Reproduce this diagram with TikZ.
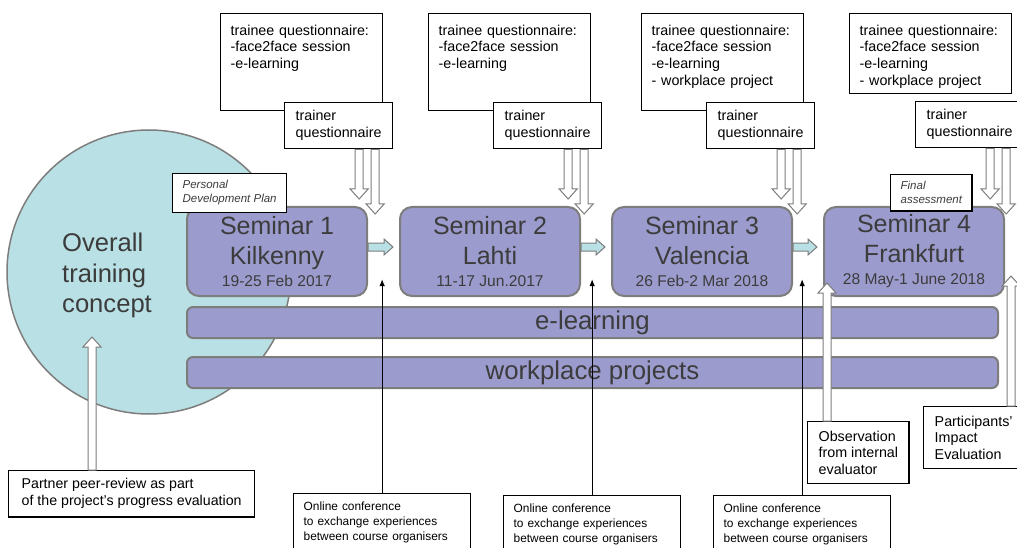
\documentclass[tikz,border=0pt]{standalone}
\usepackage{fontspec}
\setmainfont{Liberation Sans}
\usetikzlibrary{positioning,calc,arrows.meta}

\definecolor{lavender}{RGB}{155,155,206}
\definecolor{paleteal}{RGB}{185,224,228}
\definecolor{rimgrey}{RGB}{125,125,125}
\definecolor{inkgrey}{RGB}{60,60,60}

\tikzset{
  seminar/.style={draw=rimgrey, line width=2pt, fill=lavender, rounded corners=12pt,
    minimum width=180pt, minimum height=89pt, inner sep=0pt, align=center,
    text=inkgrey, font=\fontsize{25}{30}\selectfont},
  strand/.style={draw=rimgrey, line width=2pt, fill=lavender, rounded corners=6pt,
    minimum width=811pt, minimum height=31pt, inner sep=0pt,
    text=inkgrey, font=\fontsize{25.8}{30}\selectfont},
  qbox/.style={draw, line width=1.3pt, fill=white, anchor=north west, align=left,
    text width=142pt, inner xsep=10pt, inner ysep=11pt, text height=10.4pt,
    font=\fontsize{14.3}{16.7}\selectfont},
  trainerbox/.style={draw, line width=1.3pt, fill=white, anchor=north west, align=left,
    inner xsep=11pt, minimum height=46pt, font=\fontsize{14.3}{16.7}\selectfont},
  notebox/.style={draw, line width=1.3pt, fill=white, anchor=north west, align=left,
    inner xsep=10pt, inner ysep=7pt, text=inkgrey, font=\fontsize{11.5}{14}\selectfont\itshape},
  remark/.style={draw, line width=1.3pt, fill=white, anchor=north west, align=left,
    inner xsep=11pt, inner ysep=9pt, font=\fontsize{14.3}{16.7}\selectfont},
  online/.style={draw, line width=1.3pt, fill=white, anchor=north west, align=left,
    text width=157pt, inner xsep=10pt, inner ysep=8pt, text height=8.5pt, text depth=50pt,
    font=\fontsize{11.9}{15}\selectfont},
  hollow/.style={draw=rimgrey, line width=1pt, fill=white},
  stepper/.style={draw=rimgrey, line width=1pt, fill=paleteal},
  feedback/.style={draw, line width=1.3pt, -{Latex[length=7pt,width=5.5pt]}},
}

% block arrow between two seminars
\newcommand\stepjump[2]{%
  \filldraw[stepper] ($(#1.east)+(0,-8.5)$) -- ($(#2.west)+(-15,-8.5)$)
    -- ($(#2.west)+(-15,-12.5)$) -- ($(#2.west)+(-6,-4.5)$) -- ($(#2.west)+(-15,3.5)$)
    -- ($(#2.west)+(-15,-0.5)$) -- ($(#1.east)+(0,-0.5)$) -- cycle;}

% hollow vertical arrow: #1 tail, #2 tip, #3 = 1 down, -1 up
\newcommand\hollowarrow[3]{%
  \filldraw[hollow] ($(#1)+(-4,0)$) -- ($(#2)+(-4,{-10*(#3)})$) -- ($(#2)+(-9,{-10*(#3)})$)
    -- (#2) -- ($(#2)+(9,{-10*(#3)})$) -- ($(#2)+(4,{-10*(#3)})$) -- ($(#1)+(4,0)$) -- cycle;}

\begin{document}
\begin{tikzpicture}[x=1pt, y=-1pt]
    \clip (0,0) rectangle (1017,548);

    % training concept
    \node [circle, draw=rimgrey, line width=1.5pt, fill=paleteal, minimum size=284pt, inner sep=0pt] (otc) at (149,272) {};
    \node [anchor=north west, inner sep=0pt, align=left, text=inkgrey, font=\fontsize{25.6}{30.5}\selectfont] (otctext) at (62,233) {Overall\\training\\concept};

    % seminars and strands
    \node [seminar] (s1) at (277,251.5) {Seminar 1\\Kilkenny\\[-8pt]{\fontsize{15.6}{18}\selectfont 19-25 Feb 2017}};
    \node [seminar, right=31pt of s1] (s2) {Seminar 2\\Lahti\\[-8pt]{\fontsize{15.6}{18}\selectfont 11-17 Jun.2017}};
    \node [seminar, right=30pt of s2] (s3) {Seminar 3\\Valencia\\[-8pt]{\fontsize{15.6}{18}\selectfont 26 Feb-2 Mar 2018}};
    \node [seminar, right=30pt of s3] (s4) {Seminar 4\\Frankfurt\\[-8pt]{\fontsize{15.6}{18}\selectfont 28 May-1 June 2018}};
    \node [strand, below=9pt of s1.south west, anchor=north west] (elearn) {e-learning};
    \node [strand, below=17pt of elearn] (wproj) {workplace projects};

    \stepjump{s1}{s2}
    \stepjump{s2}{s3}
    \stepjump{s3}{s4}

    % questionnaires
    \node [qbox, text depth=64.6pt] (tq1) at (220,13) {trainee questionnaire:\\-face2face session\\-e-learning};
    \node [qbox, text depth=64.6pt] (tq2) at (428,13) {trainee questionnaire:\\-face2face session\\-e-learning};
    \node [qbox, text depth=64.6pt] (tq3) at (641,13) {trainee questionnaire:\\-face2face session\\-e-learning\\- workplace project};
    \node [qbox, text depth=47.6pt] (tq4) at (849,13) {trainee questionnaire:\\-face2face session\\-e-learning\\- workplace project};
    \node [trainerbox] (tr1) at (284,102) {trainer\\questionnaire};
    \node [trainerbox] (tr2) at (493,102) {trainer\\questionnaire};
    \node [trainerbox] (tr3) at (706,102) {trainer\\questionnaire};
    \node [trainerbox] (tr4) at (915,101) {trainer\\questionnaire};

    \coordinate (t1a) at ($(tr1.south east)+(-34,0)$);
    \coordinate (t1b) at ($(tr1.south east)+(-18,0)$);
    \coordinate (t2a) at ($(tr2.south east)+(-34,0)$);
    \coordinate (t2b) at ($(tr2.south east)+(-18,0)$);
    \coordinate (t3a) at ($(tr3.south east)+(-34,0)$);
    \coordinate (t3b) at ($(tr3.south east)+(-18,0)$);
    \coordinate (t4a) at ($(tr4.south east)+(-34,0)$);
    \coordinate (t4b) at ($(tr4.south east)+(-18,0)$);
    \coordinate (h1a) at ($(t1a |- s1.north)+(0,-7)$);
    \coordinate (h1b) at ($(t1b |- s1.north)+(0,8)$);
    \coordinate (h2a) at ($(t2a |- s2.north)+(0,-7)$);
    \coordinate (h2b) at ($(t2b |- s2.north)+(0,8)$);
    \coordinate (h3a) at ($(t3a |- s3.north)+(0,-7)$);
    \coordinate (h3b) at ($(t3b |- s3.north)+(0,8)$);
    \coordinate (h4a) at ($(t4a |- s4.north)+(0,-7)$);
    \coordinate (h4b) at ($(t4b |- s4.north)+(0,8)$);
    \hollowarrow{t1a}{h1a}{1}
    \hollowarrow{t1b}{h1b}{1}
    \hollowarrow{t2a}{h2a}{1}
    \hollowarrow{t2b}{h2b}{1}
    \hollowarrow{t3a}{h3a}{1}
    \hollowarrow{t3b}{h3b}{1}
    \hollowarrow{t4a}{h4a}{1}
    \hollowarrow{t4b}{h4b}{1}

    \node [notebox] (pdp) at (172,173) {Personal\\Development Plan};
    \node [notebox] (final) at (890,174) {Final\\assessment};

    % evaluation below
    \node [remark, inner xsep=13pt, inner ysep=8pt, font=\fontsize{14.2}{17}\selectfont] (peer) at (8,470) {Partner peer-review as part\\of the project's progress evaluation};
    \node [online] (on1) at (293,493) {Online conference\\to exchange experiences\\between course organisers};
    \node [online] (on2) at (503,495) {Online conference\\to exchange experiences\\between course organisers};
    \node [online] (on3) at (713,495) {Online conference\\to exchange experiences\\between course organisers};
    \node [remark] (obs) at (807,421) {Observation\\from internal\\evaluator};
    \node [remark, inner xsep=10pt, minimum width=100pt] (partic) at (923,406) {Participants'\\Impact\\Evaluation};

    \coordinate (c1) at ($(on1.north |- s1.south)+(0,-18)$);
    \coordinate (c2) at ($(on2.north |- s2.south)+(0,-18)$);
    \coordinate (c3) at ($(on3.north |- s3.south)+(0,-18)$);
    \draw [feedback] (on1.north) -- (c1);
    \draw [feedback] (on2.north) -- (c2);
    \draw [feedback] (on3.north) -- (c3);

    \coordinate (pr) at ($(peer.north west)+(84,0)$);
    \coordinate (prt) at ($(pr |- otc.center)+(0,65)$);
    \coordinate (ob) at ($(obs.north west)+(20,0)$);
    \coordinate (obt) at ($(ob |- s4.south)+(0,-14)$);
    \coordinate (pa) at ($(partic.north west)+(88,0)$);
    \coordinate (pat) at ($(pa |- s4.south)+(0,-21)$);
    \hollowarrow{pr}{prt}{-1}
    \hollowarrow{ob}{obt}{-1}
    \hollowarrow{pa}{pat}{-1}
\end{tikzpicture}
\end{document}
